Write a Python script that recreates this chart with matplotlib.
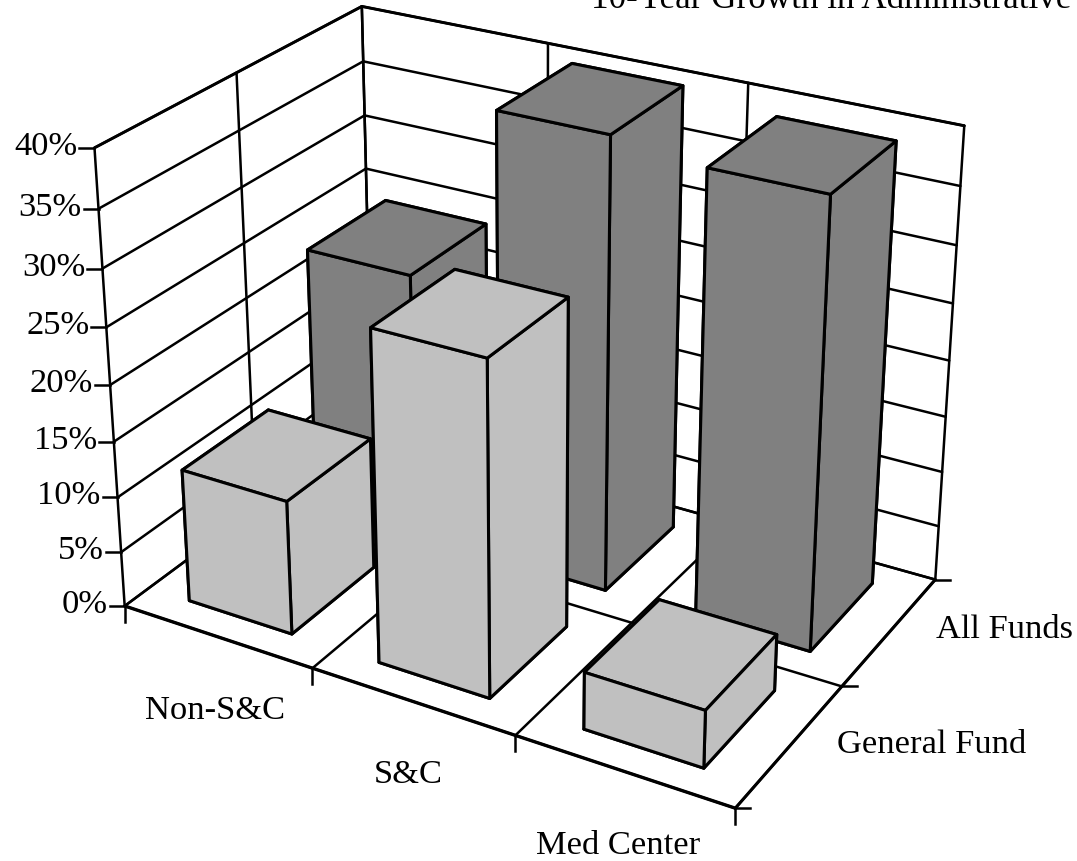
import numpy as np
import matplotlib
matplotlib.use("Agg")
import matplotlib.pyplot as plt
from matplotlib.lines import Line2D
from matplotlib.transforms import Affine2D

# Data
categories = ["Non-S&C", "S&C", "Med Center"]
series = ["General Fund", "All Funds"]
general_fund = [12.0, 29.0, 5.0]
all_funds = [24.0, 40.0, 39.0]
pct_ticks = [0, 5, 10, 15, 20, 25, 30, 35, 40]
title = "10-Year Growth in Administrative"

WIDTH, HEIGHT = 1077, 861
LIGHT = "#c0c0c0"
DARK = "#808080"
plt.rcParams["font.family"] = ["Liberation Serif", "DejaVu Serif"]
FS = 24.8

# Perspective camera: (category, series, percent) -> image pixels
camera = np.array([
    [176.1747, 147.0361, -0.9162677, 124.675],
    [37.32484, -65.46495, -11.70733, 605.9864],
    [0.0, 0.0, 0.0, -1.0],
    [-0.03721897, 0.06223985, -0.001711572, 1.0],
])

def project(x, y, z):
    h = camera @ np.array([x, y, z, 1.0])
    return h[0] / h[3], h[1] / h[3]

fig = plt.figure(figsize=(WIDTH / 100, HEIGHT / 100), dpi=100)
# square axes, 3D axes always force a square box
pad = (WIDTH - HEIGHT) / 2
ax = fig.add_axes([0, -pad / HEIGHT, 1, WIDTH / HEIGHT], projection="3d")
ax.set_axis_off()
ax.set_proj_type("ortho")  # stops Line3D clipping to the unit cube
ax.computed_zorder = False
ax.patch.set_alpha(0)
ax.get_proj = lambda: camera
ax.viewLim.intervalx = (0, WIDTH)
ax.viewLim.intervaly = (HEIGHT + pad, -pad)

# pixels with the origin top left
screen = Affine2D().scale(1, -1).translate(0, HEIGHT)

nx, ny = len(categories), len(series)
top = pct_ticks[-1]

def wall_line(xs, ys, zs, lw=1.8):
    ax.plot(xs, ys, zs, color="black", lw=lw, zorder=1, solid_capstyle="round")

# walls and floor grid
for p in pct_ticks:
    wall_line([0, 0], [0, ny], [p, p])
    wall_line([0, nx], [ny, ny], [p, p])
for i in range(nx + 1):
    wall_line([i, i], [ny, ny], [0, top])
    wall_line([i, i], [0, ny], [0, 0])
for j in range(ny + 1):
    wall_line([0, 0], [j, j], [0, top])
    wall_line([0, nx], [j, j], [0, 0])
wall_line([0, nx], [0, 0], [0, 0], lw=2.4)
wall_line([nx, nx], [0, ny], [0, 0], lw=2.2)
wall_line([0, 0], [ny, ny], [top, top], lw=2.1)
wall_line([0, nx], [ny, ny], [top, top], lw=2.1)
wall_line([0, 0], [0, ny], [top, top], lw=2.1)

# bars, back row first
bar_w, bar_d = 0.55, 0.65
off_x, off_y = 0.22, 0.18
for j, (values, color) in reversed(list(enumerate([(general_fund, LIGHT), (all_funds, DARK)]))):
    for i, v in enumerate(values):
        ax.bar3d(i + off_x, j + off_y, 0, bar_w, bar_d, v, color=color, shade=False,
                 edgecolor="black", linewidth=2.2, zorder=2 + (1 - j) * 10 + i)

# tick marks and labels
def tick(u0, v0, u1, v1):
    ax.add_artist(Line2D([u0, u1], [v0, v1], color="black", lw=1.8, transform=screen, zorder=1))

for p in pct_ticks:
    u, v = project(0, 0, p)
    tick(u - 15, v, u, v)
    ax.text2D(u - 17, v + 7, f"{p}%", ha="right", va="baseline", fontsize=FS, transform=screen)
for i in range(nx + 1):
    u, v = project(i, 0, 0)
    tick(u, v, u, v + 16)
for j in range(ny + 1):
    u, v = project(nx, j, 0)
    tick(u, v, u + 15, v)

for s, u, v in zip(categories, [215, 408, 618], [711, 775, 846]):
    ax.text2D(u, v, s, ha="center", va="center", fontsize=FS, transform=screen)
for s, u, v in zip(series, [932, 1004], [745, 630]):
    ax.text2D(u, v, s, ha="center", va="center", fontsize=FS, transform=screen)
ax.text2D(591, 8, title, ha="left", va="baseline", fontsize=25.2, transform=screen)

fig.savefig("out.png", dpi=100)
